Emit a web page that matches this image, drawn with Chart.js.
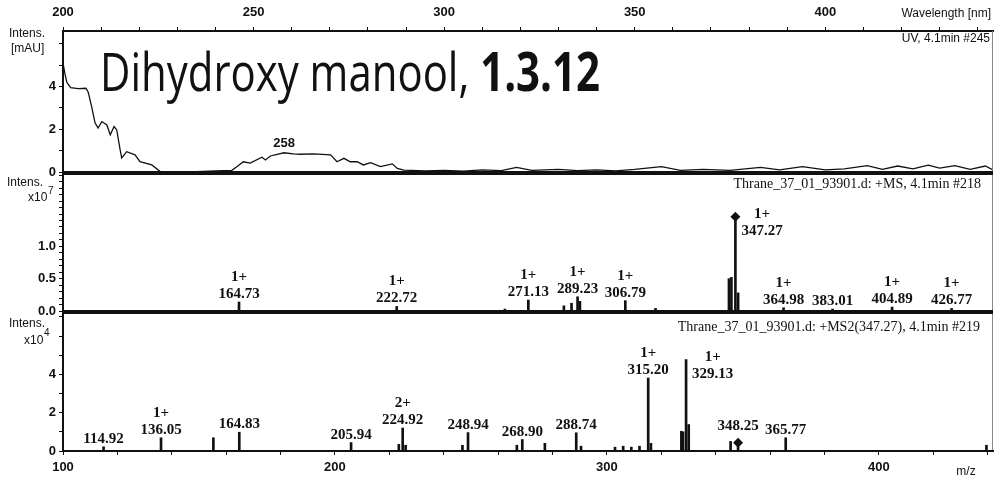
<!DOCTYPE html>
<html>
<head>
<meta charset="utf-8">
<script src="https://cdn.jsdelivr.net/npm/chart.js@4.4.1/dist/chart.umd.min.js"></script>
<style>
  html, body { margin: 0; padding: 0; background: #fff; }
  #wrap { position: relative; width: 997px; height: 486px; overflow: hidden; background: #fff; }
  #wrap canvas { position: absolute; left: 0; }
</style>
</head>
<body>
<div id="wrap">
  <canvas id="uv"  style="top:0px"   width="997" height="182"></canvas>
  <canvas id="ms"  style="top:173px" width="997" height="148"></canvas>
  <canvas id="ms2" style="top:312px" width="997" height="174"></canvas>
</div>
<script>
// ---- UV spectrum, 4.1 min #245 (wavelength in nm, intensity in mAU) ----
const uvWavelength = [200, 200.5, 201, 202, 204, 206, 206.6, 207.5, 208.4, 209.2, 210.2, 211.5, 212.4, 213.4, 214.1, 215, 215.4, 216.7, 218.9, 220.2, 223.3, 225.5, 230, 235, 240, 244.3, 245.6, 247.3, 249.1, 252.2, 253.1, 254.4, 258, 260.4, 262.3, 265.7, 270.2, 271.9, 273.7, 275.4, 277.2, 278.8, 280.7, 283.3, 286.4, 287.7, 289.4, 295, 300, 305, 310, 315, 319, 323, 330, 335, 340, 345, 350, 357, 362, 368, 375, 383, 388, 394, 400, 405, 411, 415, 419, 423, 427, 430, 434, 438, 442, 444];
const uvIntensity  = [5.1, 4.6, 4.2, 3.95, 3.9, 3.92, 3.75, 3.07, 2.3, 2.06, 2.36, 2.2, 1.74, 2.13, 1.97, 1.03, 0.66, 0.95, 0.8, 0.48, 0.33, 0.02, 0.0, 0.02, 0.05, 0.08, 0.25, 0.48, 0.42, 0.69, 0.56, 0.75, 0.9, 0.85, 0.83, 0.85, 0.8, 0.48, 0.64, 0.48, 0.48, 0.33, 0.44, 0.25, 0.38, 0.17, 0.09, 0.05, 0.08, 0.04, 0.1, 0.06, 0.22, 0.08, 0.12, 0.06, 0.1, 0.05, 0.12, 0.25, 0.08, 0.12, 0.08, 0.22, 0.1, 0.25, 0.1, 0.15, 0.3, 0.12, 0.28, 0.15, 0.32, 0.18, 0.3, 0.12, 0.28, 0.1];
const uvMaximum = 258;
const uvTickLabels = [0, 2, 4];
const wavelengthTickLabels = [200, 250, 300, 350, 400];

// ---- +MS scan, 4.1 min #218 (intensity x10^7) ----
const msPeakMz        = [164.73, 222.72, 271.13, 289.23, 306.79, 347.27, 364.98, 383.01, 404.89, 426.77];
const msPeakIntensity = [0.14, 0.07, 0.17, 0.22, 0.16, 1.46, 0.05, 0.03, 0.06, 0.04];
const msPeakCharge    = ['1+', '1+', '1+', '1+', '1+', '1+', '1+', '', '1+', '1+'];
const msMinorMz        = [284.2, 287.0, 290.1, 317.9, 344.9, 345.8, 348.27, 262.5];
const msMinorIntensity = [0.08, 0.12, 0.15, 0.04, 0.5, 0.52, 0.28, 0.03];
const msPrecursorMz = 347.27;
const msTickLabels = [0.0, 0.5, 1.0];

// ---- +MS2(347.27) scan, 4.1 min #219 (intensity x10^4) ----
const ms2PeakMz        = [114.92, 136.05, 164.83, 205.94, 224.92, 248.94, 268.90, 288.74, 315.20, 329.13, 348.25, 365.77];
const ms2PeakIntensity = [0.22, 0.69, 0.98, 0.44, 1.2, 0.96, 0.6, 0.95, 3.81, 4.77, 0.43, 0.69];
const ms2PeakCharge    = ['', '1+', '', '', '2+', '', '', '', '1+', '1+', '', ''];
const ms2MinorMz        = [155.3, 223.5, 226.0, 246.9, 266.9, 277.2, 290.5, 303.0, 306.0, 309.0, 312.0, 316.2, 327.4, 328.0, 330.1, 345.5, 439.6];
const ms2MinorIntensity = [0.69, 0.35, 0.3, 0.3, 0.3, 0.4, 0.25, 0.2, 0.25, 0.2, 0.25, 0.4, 1.03, 1.0, 1.38, 0.5, 0.3];
const ms2MarkerMz = 348.25;
const ms2TickLabels = [0, 2, 4];
const mzTickLabels = [100, 200, 300, 400];

// ---- shared styling ----
const INK = '#111';
const tickFont = { family: '"Liberation Sans", Arial, sans-serif', size: 13, weight: 'bold' };
const peakFont = 'bold 15px "Liberation Serif", serif';
const smallFont = '12px "Liberation Sans", Arial, sans-serif';

function inList(list, v) { return list.some(t => Math.abs(t - v) < 1e-6); }

// keep the plot area edges exactly where the panels meet
function noOverflow(scale) {
  scale.paddingTop = 0; scale.paddingBottom = 0;
  scale.paddingLeft = 0; scale.paddingRight = 0;
}

function yAxis(min, max, step, labels, digits) {
  return {
    type: 'linear', min, max,
    afterFit(scale) { scale.width = 63; noOverflow(scale); },
    grid: { drawOnChartArea: false, drawTicks: true, tickLength: 4, color: INK, tickColor: INK },
    border: { display: true, color: INK, width: 2 },
    ticks: {
      stepSize: step, includeBounds: false, autoSkip: false, color: INK, font: tickFont, padding: 3,
      callback: v => inList(labels, v) ? v.toFixed(digits) : ''
    }
  };
}

function xAxis(min, max, step, labels, position, size, visible) {
  return {
    type: 'linear', min, max, position, display: visible, offset: false,
    afterFit(scale) { scale.height = size; noOverflow(scale); },
    grid: { drawOnChartArea: false, drawTicks: true, tickLength: 4, color: INK, tickColor: INK, offset: false },
    border: { display: true, color: INK, width: 2 },
    ticks: {
      stepSize: step, includeBounds: false, color: INK, font: tickFont, padding: position === 'top' ? 7 : 5,
      maxRotation: 0, autoSkip: false,
      callback: v => inList(labels, v) ? String(v) : ''
    }
  };
}

// Frame around the plot area: separator lines top/bottom and thin right edge
function framePlugin(drawTop) {
  return {
    id: 'frame',
    afterDraw(chart) {
      const { ctx, chartArea: a } = chart;
      ctx.save();
      ctx.strokeStyle = '#888';
      ctx.lineWidth = 1;
      ctx.beginPath();
      ctx.moveTo(a.right - 0.5, a.top); ctx.lineTo(a.right - 0.5, a.bottom);
      ctx.stroke();
      ctx.strokeStyle = INK;
      ctx.lineWidth = 2;
      ctx.beginPath();
      ctx.moveTo(a.left, a.bottom); ctx.lineTo(a.right, a.bottom);
      if (drawTop) { ctx.moveTo(a.left, a.top); ctx.lineTo(a.right, a.top); }
      ctx.stroke();
      ctx.restore();
    }
  };
}

// Free text drawn in canvas pixels (axis titles, scan headers)
function textPlugin(items) {
  return {
    id: 'texts',
    afterDraw(chart) {
      const { ctx } = chart;
      ctx.save();
      ctx.fillStyle = INK;
      ctx.textBaseline = 'alphabetic';
      for (const it of items) {
        ctx.font = it.font;
        ctx.textAlign = it.align || 'left';
        if (it.width) ctx.fillText(it.text, it.x, it.y, it.width);
        else ctx.fillText(it.text, it.x, it.y);
      }
      ctx.restore();
    }
  };
}

// Peak annotations: charge state above the m/z value; the tallest peak gets its label on the right
function peakLabelPlugin(mzList, intensityList, chargeList, markerMz) {
  return {
    id: 'peakLabels',
    afterDatasetsDraw(chart) {
      const { ctx, scales: { x, y } } = chart;
      const tallest = intensityList.indexOf(Math.max(...intensityList));
      ctx.save();
      ctx.fillStyle = INK;
      ctx.font = peakFont;
      ctx.textBaseline = 'alphabetic';
      mzList.forEach((mz, i) => {
        const px = x.getPixelForValue(mz);
        const py = y.getPixelForValue(intensityList[i]);
        const text = mz.toFixed(2);
        const w = ctx.measureText(text).width;
        const lift = (markerMz !== null && Math.abs(markerMz - mz) < 1e-6) ? 9 : 0;
        if (i === tallest) {
          const lx = px + 6;
          ctx.textAlign = 'left';
          ctx.fillText(text, lx, py + 18);
          if (chargeList[i]) { ctx.textAlign = 'center'; ctx.fillText(chargeList[i], lx + w / 2, py + 1); }
        } else {
          const base = py - 4 - lift;
          ctx.textAlign = 'center';
          ctx.fillText(text, px, base);
          if (chargeList[i]) ctx.fillText(chargeList[i], px, base - 17);
        }
      });
      ctx.restore();
    }
  };
}

// ---------------- UV panel ----------------
const uvTitlePlugin = {
  id: 'uvTitle',
  afterDraw(chart) {
    const { ctx, scales: { x, y } } = chart;
    ctx.save();
    ctx.fillStyle = INK;
    // λmax annotation
    const i = uvWavelength.indexOf(uvMaximum);
    ctx.font = 'bold 13px "Liberation Sans", Arial, sans-serif';
    ctx.textAlign = 'center';
    ctx.fillText(String(uvMaximum), x.getPixelForValue(uvMaximum), y.getPixelForValue(uvIntensity[i]) - 6);
    // compound name
    ctx.textAlign = 'left';
    const part1 = 'Dihydroxy manool, ';
    const part2 = '1.3.12';
    ctx.font = '53px "Open Sans", sans-serif';
    const w1 = ctx.measureText(part1).width;
    ctx.font = 'bold 53px "Open Sans", sans-serif';
    const w2 = ctx.measureText(part2).width;
    const sx = 500 / (w1 + w2);
    ctx.translate(100, 91);
    ctx.scale(sx, 1);
    ctx.font = '53px "Open Sans", sans-serif';
    ctx.fillText(part1, 0, 0);
    ctx.font = 'bold 53px "Open Sans", sans-serif';
    ctx.fillText(part2, w1, 0);
    ctx.restore();
  }
};

new Chart(document.getElementById('uv'), {
  type: 'line',
  data: {
    datasets: [{
      data: uvWavelength.map((w, i) => ({ x: w, y: uvIntensity[i] })),
      borderColor: INK, borderWidth: 1.3, pointRadius: 0, tension: 0, fill: false
    }]
  },
  options: {
    responsive: false, animation: false,
    layout: { autoPadding: false, padding: { left: 0, right: 4, top: 0, bottom: 10 } },
    plugins: { legend: { display: false }, tooltip: { enabled: false } },
    scales: {
      x: xAxis(200, 444, 10, wavelengthTickLabels, 'top', 31, true),
      y: yAxis(0, 6.6, 1, uvTickLabels, 0)
    }
  },
  plugins: [framePlugin(false), uvTitlePlugin, textPlugin([
    { text: 'Wavelength [nm]', x: 991, y: 17, font: smallFont, align: 'right', width: 112 },
    { text: 'UV, 4.1min #245', x: 990, y: 42, font: smallFont, align: 'right', width: 110 },
    { text: 'Intens.', x: 9, y: 37, font: smallFont, width: 46 },
    { text: '[mAU]', x: 11, y: 52, font: smallFont, width: 42 }
  ])]
});

// ---------------- +MS panel ----------------
new Chart(document.getElementById('ms'), {
  type: 'bar',
  data: {
    datasets: [
      {
        type: 'scatter',
        data: [{ x: msPrecursorMz, y: msPeakIntensity[msPeakMz.indexOf(msPrecursorMz)] }],
        pointStyle: 'rectRot', pointRadius: 5, backgroundColor: INK, borderColor: INK, borderWidth: 0
      },
      {
        data: msPeakMz.map((m, i) => ({ x: m, y: msPeakIntensity[i] }))
          .concat(msMinorMz.map((m, i) => ({ x: m, y: msMinorIntensity[i] }))),
        backgroundColor: INK, barThickness: 2, grouped: false
      }
    ]
  },
  options: {
    responsive: false, animation: false,
    layout: { autoPadding: false, padding: { left: 0, right: 4, top: 1, bottom: 10 } },
    plugins: { legend: { display: false }, tooltip: { enabled: false } },
    scales: {
      x: xAxis(100, 442, 20, mzTickLabels, 'bottom', 0, false),
      y: yAxis(0, 2.12, 0.1, msTickLabels, 1)
    }
  },
  plugins: [framePlugin(true), peakLabelPlugin(msPeakMz, msPeakIntensity, msPeakCharge, null), textPlugin([
    { text: 'Thrane_37_01_93901.d: +MS, 4.1min #218', x: 981, y: 15, font: '14px "Liberation Serif", serif', align: 'right', width: 276 },
    { text: 'Intens.', x: 7, y: 13, font: smallFont, width: 44 },
    { text: 'x10', x: 28, y: 28, font: smallFont },
    { text: '7', x: 48, y: 21, font: '10px "Liberation Sans", Arial, sans-serif' }
  ])]
});

// ---------------- +MS2 panel ----------------
new Chart(document.getElementById('ms2'), {
  type: 'bar',
  data: {
    datasets: [
      {
        type: 'scatter',
        data: [{ x: ms2MarkerMz, y: ms2PeakIntensity[ms2PeakMz.indexOf(ms2MarkerMz)] }],
        pointStyle: 'rectRot', pointRadius: 5, backgroundColor: INK, borderColor: INK, borderWidth: 0
      },
      {
        data: ms2PeakMz.map((m, i) => ({ x: m, y: ms2PeakIntensity[i] }))
          .concat(ms2MinorMz.map((m, i) => ({ x: m, y: ms2MinorIntensity[i] }))),
        backgroundColor: INK, barThickness: 2, grouped: false
      }
    ]
  },
  options: {
    responsive: false, animation: false,
    layout: { autoPadding: false, padding: { left: 0, right: 4, top: 1, bottom: 0 } },
    plugins: { legend: { display: false }, tooltip: { enabled: false } },
    scales: {
      x: xAxis(100, 442, 20, mzTickLabels, 'bottom', 35, true),
      y: yAxis(0, 7.2, 1, ms2TickLabels, 0)
    }
  },
  plugins: [framePlugin(true), peakLabelPlugin(ms2PeakMz, ms2PeakIntensity, ms2PeakCharge, ms2MarkerMz), textPlugin([
    { text: 'Thrane_37_01_93901.d: +MS2(347.27), 4.1min #219', x: 980, y: 19, font: '14px "Liberation Serif", serif', align: 'right', width: 340 },
    { text: 'Intens.', x: 9, y: 15, font: smallFont, width: 42 },
    { text: 'x10', x: 24, y: 32, font: smallFont },
    { text: '4', x: 44, y: 24, font: '10px "Liberation Sans", Arial, sans-serif' },
    { text: 'm/z', x: 966, y: 163, font: smallFont, align: 'center' }
  ])]
});
</script>
</body>
</html>
